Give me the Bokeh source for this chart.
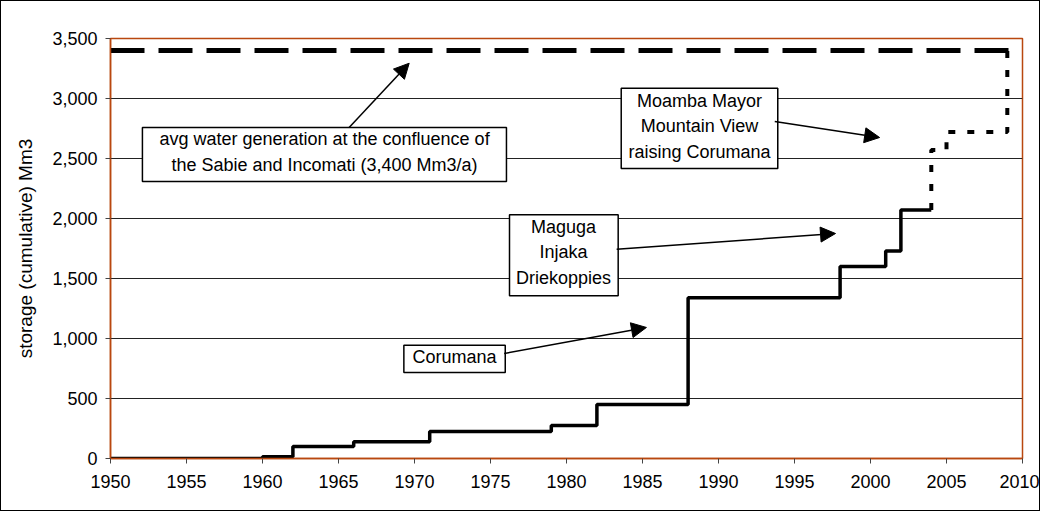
from bokeh.plotting import figure
from bokeh.embed import file_html
from bokeh.resources import INLINE
from bokeh.core.properties import value
from bokeh.models import Range1d, FixedTicker, NumeralTickFormatter, Arrow, NormalHead

# ---- data ----
built_years = [1950, 1960, 1962, 1966, 1971, 1979, 1982, 1988, 1998, 2001, 2002, 2004]
built_storage = [0, 15, 100, 140, 225, 275, 450, 1340, 1600, 1730, 2070, 2070]

planned_years = [2004, 2004, 2005, 2009]
planned_storage = [2070, 2570, 2720, 3400]

avg_years = [1950, 2010]
avg_generation = [3400, 3400]

x_ticks = [1950, 1955, 1960, 1965, 1970, 1975, 1980, 1985, 1990, 1995, 2000, 2005, 2010]
y_ticks = [0, 500, 1000, 1500, 2000, 2500, 3000, 3500]

FONT = value("Liberation Sans")
BROWN = "#B9470F"

p = figure(frame_width=912, frame_height=420,
           min_border_left=109, min_border_right=17, min_border_top=37, min_border_bottom=52,
           x_range=Range1d(1950, 2010), y_range=Range1d(0, 3500),
           output_backend="svg", toolbar_location=None)
p.styles = {"border": "1px solid black"}

p.outline_line_color = BROWN
p.outline_line_width = 1.5
p.background_fill_color = "white"
p.border_fill_color = "white"

p.xgrid.grid_line_color = None
p.ygrid.grid_line_color = "#222222"
p.ygrid.grid_line_width = 1

p.xaxis.ticker = FixedTicker(ticks=x_ticks)
p.yaxis.ticker = FixedTicker(ticks=y_ticks)
p.yaxis.formatter = NumeralTickFormatter(format="0,0")
for ax in (p.xaxis, p.yaxis):
    ax.axis_line_color = BROWN
    ax.axis_line_width = 1.5
    ax.major_tick_line_color = "#444444"
    ax.major_tick_out = 5
    ax.major_tick_in = 0
    ax.minor_tick_line_color = None
    ax.major_label_text_font = "Liberation Sans"
    ax.major_label_text_font_size = "18px"
    ax.major_label_text_color = "black"
p.yaxis.major_label_standoff = 8
p.xaxis.major_label_standoff = 11
p.yaxis.axis_label = "storage (cumulative) Mm3"
p.yaxis.axis_label_text_font = "Liberation Sans"
p.yaxis.axis_label_text_font_size = "19px"
p.yaxis.axis_label_text_font_style = "normal"
p.yaxis.axis_label_text_color = "black"
p.yaxis.axis_label_standoff = 13

# average generation line
p.line(avg_years, avg_generation, line_color="black", line_width=5, line_dash="34 14")
# built storage (cumulative)
p.step(built_years, built_storage, mode="after", line_color="black", line_width=3.5)
# planned storage
p.step(planned_years, planned_storage, mode="after", line_color="black", line_width=4,
       line_dash="7 12")

# annotation boxes (data coordinates)
boxes_left = [1952.1, 1983.6, 1976.25, 1969.3]
boxes_right = [1976.05, 1993.9, 1983.4, 1975.97]
boxes_top = [2758, 3086, 2031, 944]
boxes_bottom = [2308, 2417, 1356, 717]
p.quad(left=boxes_left, right=boxes_right, top=boxes_top, bottom=boxes_bottom,
       fill_color="white", line_color="black", line_width=1.5)

lab_x = [1964.08, 1964.08, 1988.75, 1988.75, 1988.75, 1979.8, 1979.8, 1979.8, 1972.63]
lab_y = [2661, 2448, 2981, 2773, 2558, 1931, 1722, 1503, 850]
lab_t = ["avg water generation at the confluence of",
         "the Sabie and Incomati (3,400 Mm3/a)",
         "Moamba Mayor", "Mountain View", "raising Corumana",
         "Maguga", "Injaka", "Driekoppies",
         "Corumana"]
p.text(x=lab_x, y=lab_y, text=lab_t, text_font=FONT, text_font_size="18px",
       text_align="center", text_baseline="middle", text_color="black")

arrows = [
    (1965.7, 2758, 1969.65, 3294),
    (1993.7, 2808, 2000.6, 2675),
    (1983.3, 1744, 1997.7, 1875),
    (1975.9, 875, 1985.26, 1092),
]
for xs, ys, xe, ye in arrows:
    p.add_layout(Arrow(end=NormalHead(size=15, fill_color="black", line_color="black", line_width=1),
                       x_start=xs, y_start=ys, x_end=xe, y_end=ye,
                       line_color="black", line_width=1.5))

open("out.html", "w").write(file_html(p, INLINE))
